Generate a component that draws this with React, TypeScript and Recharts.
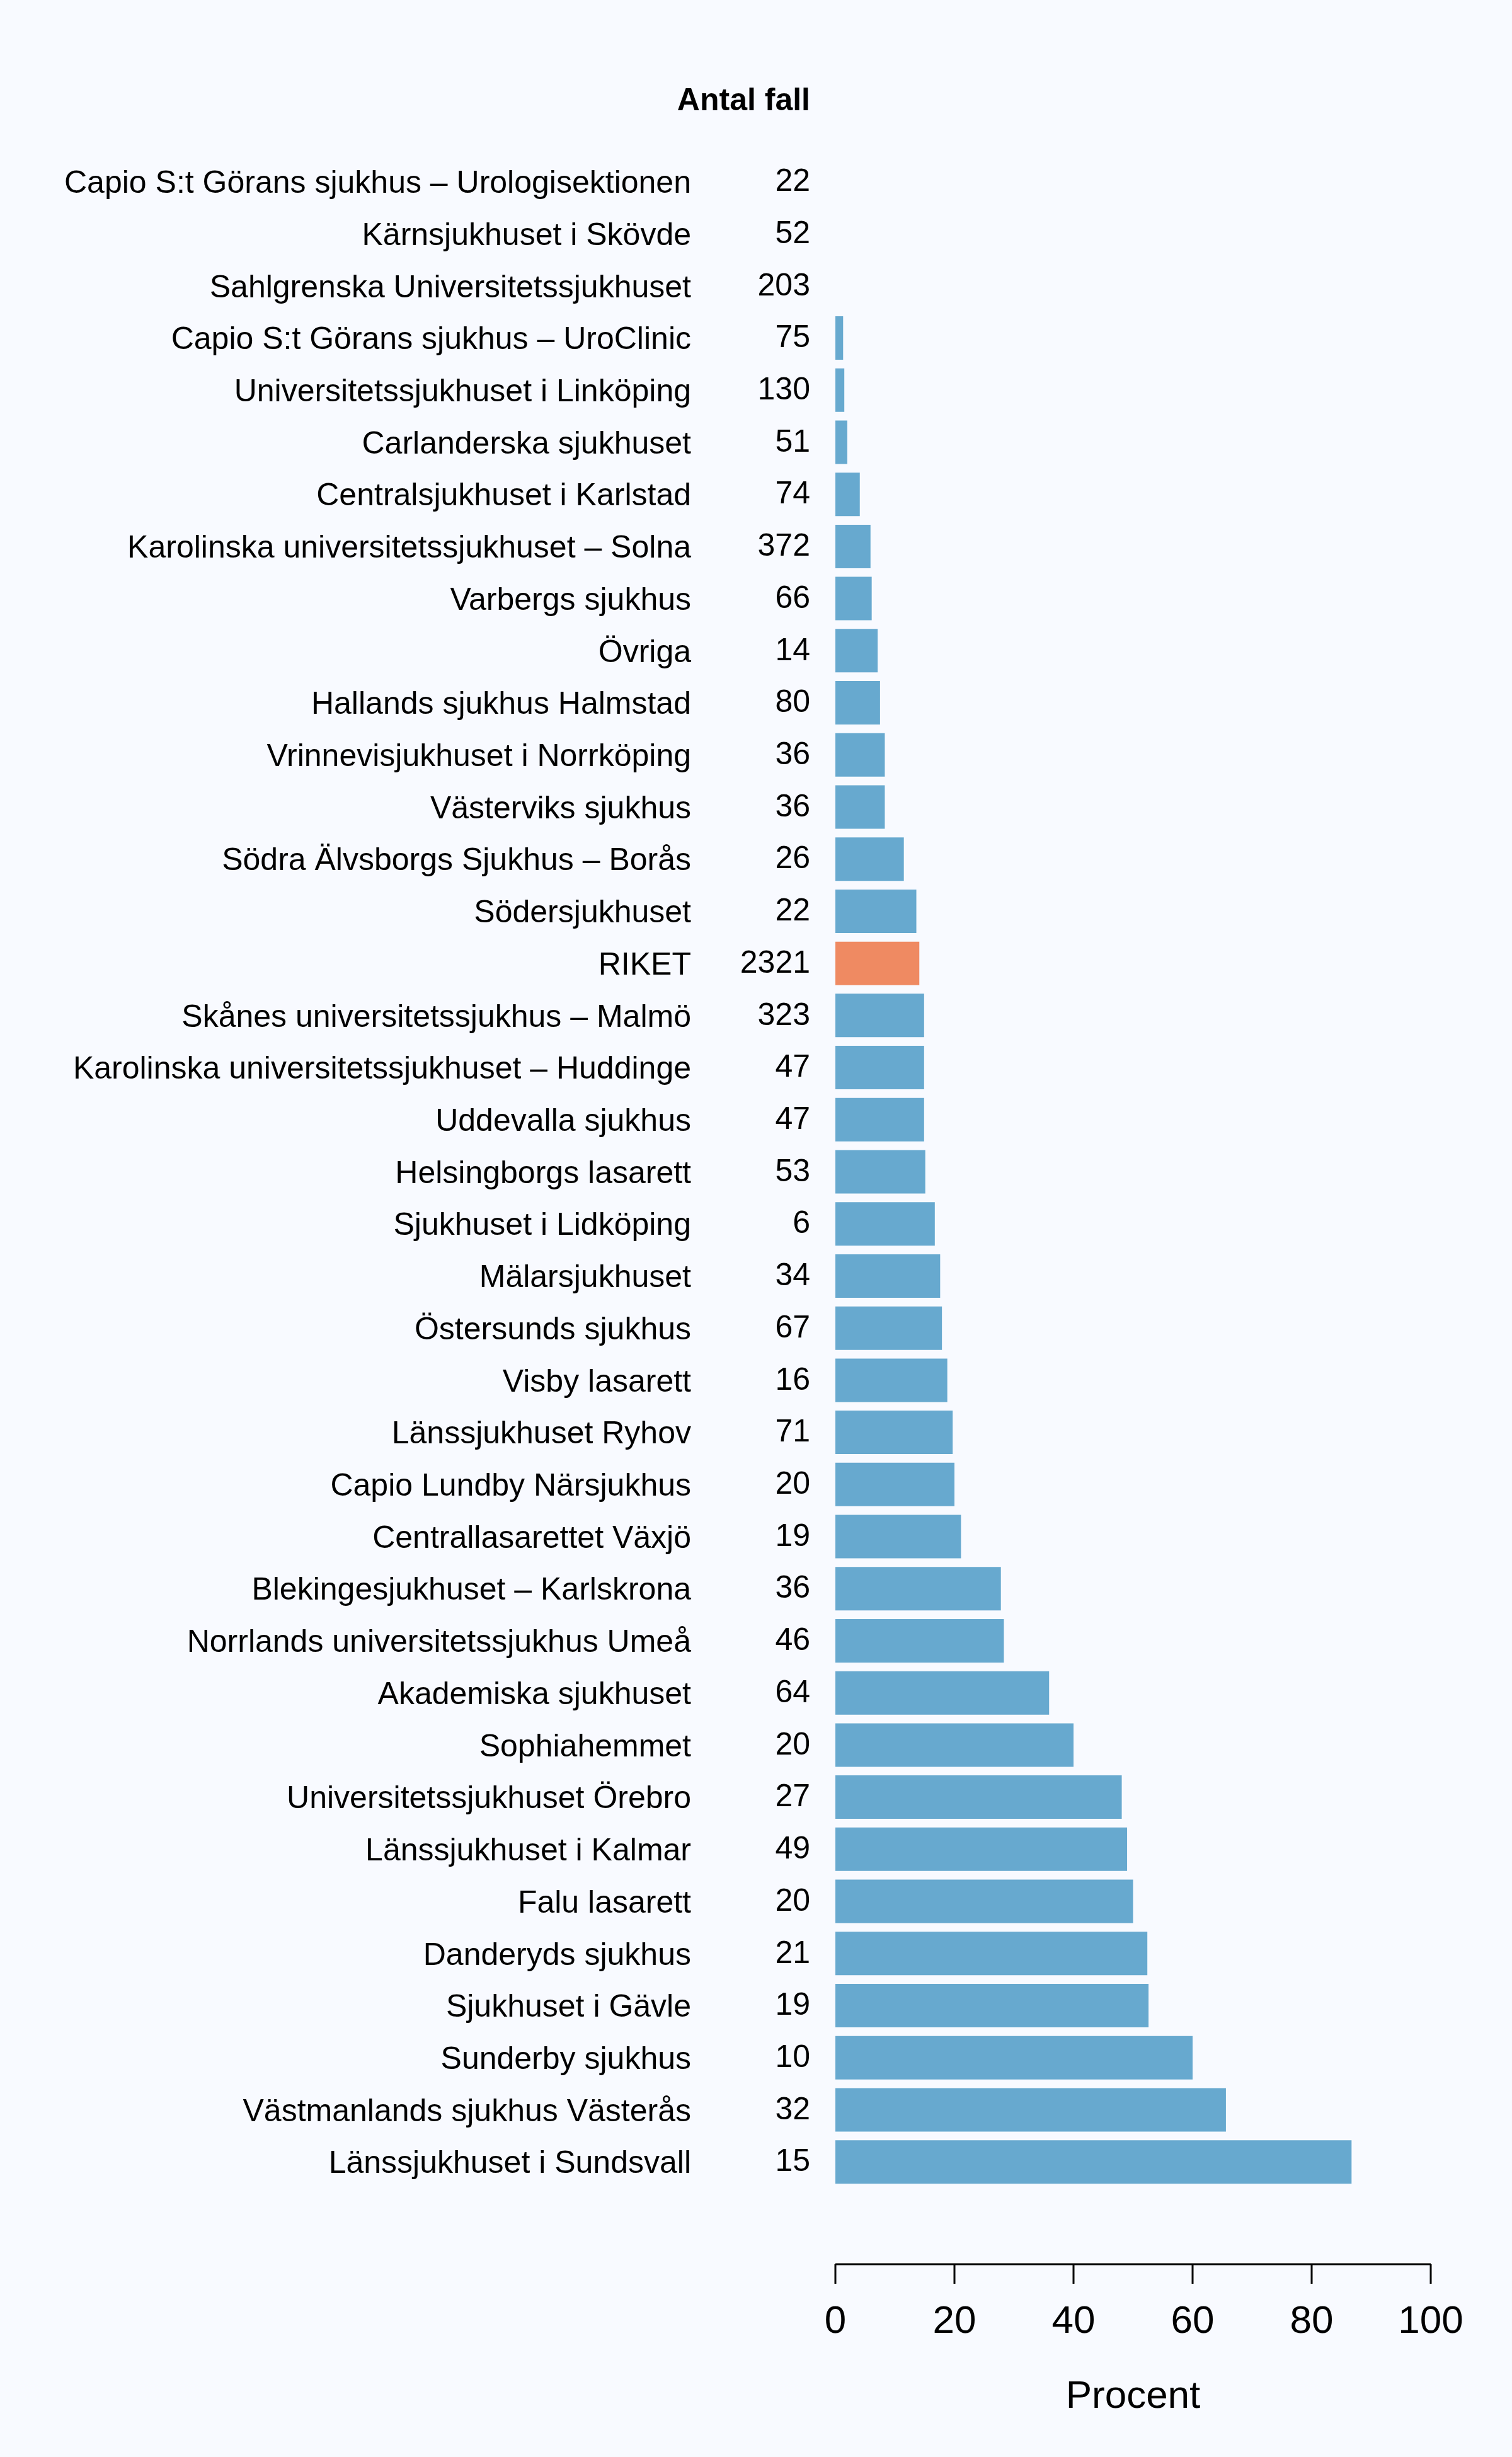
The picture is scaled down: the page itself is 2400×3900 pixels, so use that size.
import { Bar, BarChart, Cell, Label, XAxis, YAxis } from "recharts"

const names = [
  "Capio S:t Görans sjukhus – Urologisektionen",
  "Kärnsjukhuset i Skövde",
  "Sahlgrenska Universitetssjukhuset",
  "Capio S:t Görans sjukhus – UroClinic",
  "Universitetssjukhuset i Linköping",
  "Carlanderska sjukhuset",
  "Centralsjukhuset i Karlstad",
  "Karolinska universitetssjukhuset – Solna",
  "Varbergs sjukhus",
  "Övriga",
  "Hallands sjukhus Halmstad",
  "Vrinnevisjukhuset i Norrköping",
  "Västerviks sjukhus",
  "Södra Älvsborgs Sjukhus – Borås",
  "Södersjukhuset",
  "RIKET",
  "Skånes universitetssjukhus – Malmö",
  "Karolinska universitetssjukhuset – Huddinge",
  "Uddevalla sjukhus",
  "Helsingborgs lasarett",
  "Sjukhuset i Lidköping",
  "Mälarsjukhuset",
  "Östersunds sjukhus",
  "Visby lasarett",
  "Länssjukhuset Ryhov",
  "Capio Lundby Närsjukhus",
  "Centrallasarettet Växjö",
  "Blekingesjukhuset – Karlskrona",
  "Norrlands universitetssjukhus Umeå",
  "Akademiska sjukhuset",
  "Sophiahemmet",
  "Universitetssjukhuset Örebro",
  "Länssjukhuset i Kalmar",
  "Falu lasarett",
  "Danderyds sjukhus",
  "Sjukhuset i Gävle",
  "Sunderby sjukhus",
  "Västmanlands sjukhus Västerås",
  "Länssjukhuset i Sundsvall",
]

const counts = [
  22, 52, 203, 75, 130, 51, 74, 372, 66, 14, 80, 36, 36, 26, 22, 2321, 323,
  47, 47, 53, 6, 34, 67, 16, 71, 20, 19, 36, 46, 64, 20, 27, 49, 20, 21, 19,
  10, 32, 15,
]

const percent = [
  0, 0, 0, 1.3, 1.5, 2.0, 4.1, 5.9, 6.1, 7.1, 7.5, 8.3, 8.3, 11.5, 13.6, 14.1,
  14.9, 14.9, 14.9, 15.1, 16.7, 17.6, 17.9, 18.8, 19.7, 20.0, 21.1, 27.8, 28.3,
  35.9, 40.0, 48.1, 49.0, 50.0, 52.4, 52.6, 60.0, 65.6, 86.7,
]

const xTicks = [0, 20, 40, 60, 80, 100]

const data = names.map((name, i) => ({ name, count: counts[i], percent: percent[i] }))

const FONT = "'Liberation Sans', Arial, Helvetica, sans-serif"

function RowTick(props: any) {
  const { y, payload } = props
  const i = payload.index
  return (
    <g>
      <text x={1097} y={y} dy="0.355em" textAnchor="end" fontSize={50} fontFamily={FONT} fill="#000">
        {payload.value}
      </text>
      <text x={1286} y={y - 3} dy="0.355em" textAnchor="end" fontSize={50} fontFamily={FONT} fill="#000">
        {counts[i]}
      </text>
    </g>
  )
}

export default function App() {
  return (
    <div style={{ width: 2400, height: 3900, background: "#F8FAFF", position: "relative" }}>
      <style>{`body{margin:0}`}</style>
      <BarChart
        width={2400}
        height={3900}
        data={data}
        layout="vertical"
        margin={{ top: 247, right: 129, bottom: 0, left: 0 }}
        barCategoryGap="8.3%"
      >
        <text
          x={1286}
          y={157}
          dy="0.355em"
          textAnchor="end"
          fontSize={50}
          fontWeight="bold"
          fontFamily={FONT}
          fill="#000"
        >
          Antal fall
        </text>
        <XAxis
          type="number"
          domain={[0, 100]}
          ticks={xTicks}
          height={306}
          tickSize={31}
          tickMargin={34}
          axisLine={{ stroke: "#000", strokeWidth: 3 }}
          tickLine={{ stroke: "#000", strokeWidth: 3 }}
          tick={{ fontSize: 62, fontFamily: FONT, fill: "#000" }}
        >
          <Label
            value="Procent"
            position="insideBottom"
            offset={78}
            style={{ fontSize: 62, fontFamily: FONT, fill: "#000" }}
          />
        </XAxis>
        <YAxis
          type="category"
          dataKey="name"
          width={1326}
          interval={0}
          axisLine={false}
          tickLine={false}
          padding={{ top: 0, bottom: 121 }}
          tick={<RowTick />}
        />
        <Bar dataKey="percent" isAnimationActive={false}>
          {data.map((d, i) => (
            <Cell key={i} fill={d.name === "RIKET" ? "#EF8A62" : "#67A9CF"} />
          ))}
        </Bar>
      </BarChart>
    </div>
  )
}
